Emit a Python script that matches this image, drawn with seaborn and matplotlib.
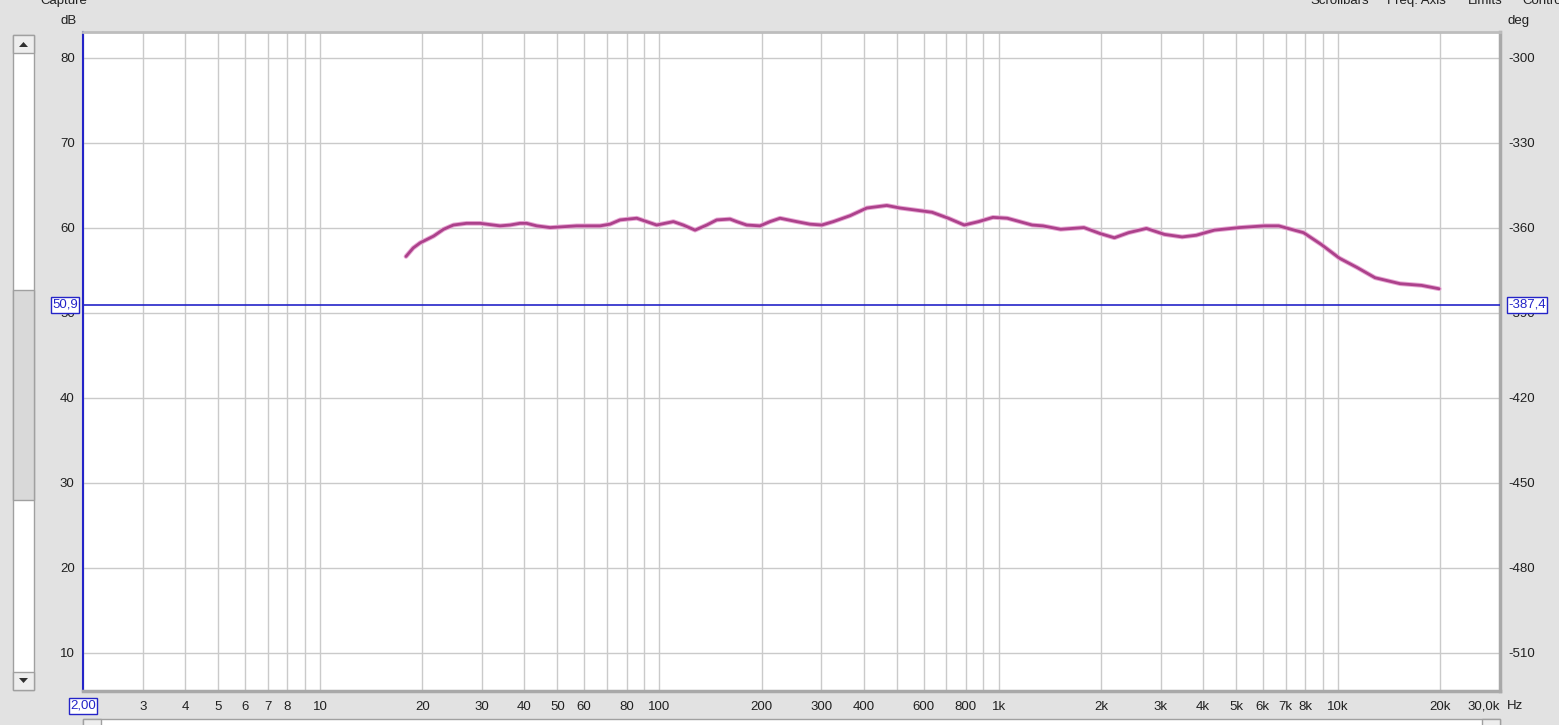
import numpy as np
import pandas as pd
import matplotlib
matplotlib.use("Agg")
import matplotlib.pyplot as plt
import matplotlib.patheffects as pe
from matplotlib.patches import Rectangle, Polygon
from matplotlib.ticker import LogLocator, NullFormatter
import seaborn as sns

# Datos (REW)
freq_hz = [17.9, 18.8, 19.7, 21.6, 23.1, 24.7, 27.0, 29.6, 33.9, 36.3, 38.8, 40.6, 43.5,
           47.6, 52.1, 57.0, 66.8, 71.5, 76.5, 85.7, 91.7, 98.1, 109.9, 117.5, 127.3,
           137.8, 147.5, 161.4, 168.9, 180.7, 197.8, 211.7, 226.6, 253.7, 277.8,
           300.9, 325.3, 364.6, 408.2, 467.5, 511.6, 636, 710, 791, 872, 961, 1059,
           1254, 1349, 1522, 1782, 1988, 2191, 2413, 2723, 3076, 3470, 3822, 4318,
           5115, 6063, 6683, 7911, 8930, 10090, 11380, 12850, 15230, 17620, 19860]
spl_db = [56.6, 57.6, 58.2, 59.0, 59.8, 60.3, 60.5, 60.5, 60.2, 60.3, 60.5, 60.5, 60.2,
          60.0, 60.1, 60.2, 60.2, 60.4, 60.9, 61.1, 60.7, 60.3, 60.7, 60.3, 59.7,
          60.3, 60.9, 61.0, 60.7, 60.3, 60.2, 60.7, 61.1, 60.7, 60.4,
          60.3, 60.7, 61.4, 62.3, 62.6, 62.3, 61.8, 61.1, 60.3, 60.7, 61.2, 61.1,
          60.3, 60.2, 59.8, 60.0, 59.3, 58.8, 59.4, 59.9, 59.2, 58.9, 59.1, 59.7,
          60.0, 60.2, 60.2, 59.4, 58.0, 56.4, 55.3, 54.1, 53.4, 53.2, 52.8]

db_ticks = [10, 20, 30, 40, 50, 60, 70, 80]
deg_ticks = [-510, -480, -450, -420, -390, -360, -330, -300]
hz_ticks = [3, 4, 5, 6, 7, 8, 10, 20, 30, 40, 50, 60, 80, 100, 200, 300, 400, 600, 800,
            1000, 2000, 3000, 4000, 5000, 6000, 7000, 8000, 10000, 20000, 30000]
hz_labels = ['3', '4', '5', '6', '7', '8', '10', '20', '30', '40', '50', '60', '80', '100',
             '200', '300', '400', '600', '800', '1k', '2k', '3k', '4k', '5k', '6k', '7k',
             '8k', '10k', '20k', '30,0k']
cursor_db = 50.9
cursor_deg = '-387,4'
cursor_hz = '2,00'
menu_items = [('Scrollbars', 1340), ('Freq. Axis', 1416), ('Limits', 1485), ('Contro', 1522)]

W, H = 1559, 725
BG = '#e2e2e2'
BLUE = '#2424c8'
CURVE = '#ac418b'


def fx(x):
    return x / W


def fy(y):
    return 1 - y / H


sns.set_theme(style="white")
plt.rcParams['font.family'] = ['Liberation Sans', 'DejaVu Sans']
plt.rcParams['font.size'] = 9.5
plt.rcParams['axes.unicode_minus'] = False

fig = plt.figure(figsize=(W / 100, H / 100), dpi=100, facecolor=BG)
ax = fig.add_axes([fx(83), fy(691), (1500 - 83) / W, (691 - 32) / H])
ax.set_facecolor('white')

df = pd.DataFrame({'Hz': freq_hz, 'dB': spl_db})
sns.lineplot(data=df, x='Hz', y='dB', ax=ax, sort=False, color=CURVE, linewidth=2.0,
             path_effects=[pe.Stroke(linewidth=3.4, foreground='#e7a8d4'), pe.Normal()],
             zorder=5)
ax.lines[0].set_solid_joinstyle('round')

# Ejes
ax.set_xscale('log')
ax.set_xlim(2, 30000)
ax.set_ylim(5.5, 83.0)
ax.set_xlabel('')
ax.set_ylabel('')
ax.set_yticks(db_ticks)
ax.set_xticks(hz_ticks)
ax.set_xticklabels(hz_labels)
ax.xaxis.set_minor_locator(LogLocator(base=10, subs=np.arange(1, 10), numticks=50))
ax.xaxis.set_minor_formatter(NullFormatter())
ax.tick_params(axis='both', which='both', length=0, colors='#202020', labelsize=9.5)
ax.tick_params(axis='x', pad=7)
ax.tick_params(axis='y', pad=6)
ax.xaxis.get_majorticklabels()[-1].set_horizontalalignment('right')
ax.grid(True, which='both', axis='x', color='#cacaca', linewidth=1)
ax.grid(True, which='major', axis='y', color='#cacaca', linewidth=1)
ax.set_axisbelow(True)

# Borde del grafico
ax.spines['left'].set_color(BLUE)
ax.spines['left'].set_linewidth(1.5)
ax.spines['top'].set_color('#bdbdbd')
ax.spines['top'].set_linewidth(2)
for s in ['right', 'bottom']:
    ax.spines[s].set_color('#a9a9a9')
    ax.spines[s].set_linewidth(2.5)

# Eje derecho en grados
ax2 = ax.twinx()
ax2.set_ylim(-300 + (5.5 - 80) * 3, -300 + (83.0 - 80) * 3)
ax2.set_yticks(deg_ticks)
ax2.tick_params(axis='y', length=0, pad=6, colors='#202020', labelsize=9.5)
ax2.grid(False)
for s in ax2.spines.values():
    s.set_visible(False)

# Cursor
ax.axhline(cursor_db, color=BLUE, linewidth=1.2, zorder=4)

box = dict(boxstyle='square,pad=0.12', fc='white', ec=BLUE, lw=1)
fig.text(fx(65), fy(305), '{:.1f}'.format(cursor_db).replace('.', ','), color=BLUE,
         ha='center', va='center', fontsize=9.5, bbox=box)
fig.text(fx(1527), fy(305), cursor_deg, color=BLUE, ha='center', va='center',
         fontsize=9.5, bbox=box)
fig.text(fx(83), fy(706), cursor_hz, color=BLUE, ha='center', va='center',
         fontsize=9.5, bbox=box)

# Unidades
fig.text(fx(69), fy(21), 'dB', ha='center', va='center', fontsize=9.5, color='#202020')
fig.text(fx(1508), fy(21), 'deg', ha='left', va='center', fontsize=9.5, color='#202020')
fig.text(fx(1507), fy(706), 'Hz', ha='left', va='center', fontsize=9.5, color='#202020')

# Menu de arriba (cortado, como en la captura)
fig.text(fx(40), fy(4), 'Capture', ha='left', va='baseline', fontsize=9.5, color='#202020')
for txt, xpos in menu_items:
    fig.text(fx(xpos), fy(4), txt, ha='left' if txt == 'Contro' else 'center',
             va='baseline', fontsize=9.5, color='#202020')


# Barras de desplazamiento
def rect(x0, y0, x1, y1, fc, ec='#a0a0a0', lw=1):
    fig.patches.append(Rectangle((fx(x0), fy(y1)), fx(x1) - fx(x0), fy(y0) - fy(y1),
                                 transform=fig.transFigure, fc=fc, ec=ec, lw=lw))


rect(13, 35, 34, 690, 'white')
rect(13, 290, 34, 500, '#d9d9d9')
rect(13, 35, 34, 53, '#eeeeee')
rect(13, 672, 34, 690, '#eeeeee')
fig.patches.append(Polygon([(fx(19), fy(47)), (fx(28), fy(47)), (fx(23.5), fy(42))],
                           closed=True, transform=fig.transFigure, fc='#303030', ec='none'))
fig.patches.append(Polygon([(fx(19), fy(678)), (fx(28), fy(678)), (fx(23.5), fy(683))],
                           closed=True, transform=fig.transFigure, fc='#303030', ec='none'))

rect(83, 719, 1500, 730, 'white')
rect(83, 719, 101, 730, '#eeeeee')
rect(1482, 719, 1500, 730, '#eeeeee')

plt.savefig('out.png', dpi=100, facecolor=BG)
